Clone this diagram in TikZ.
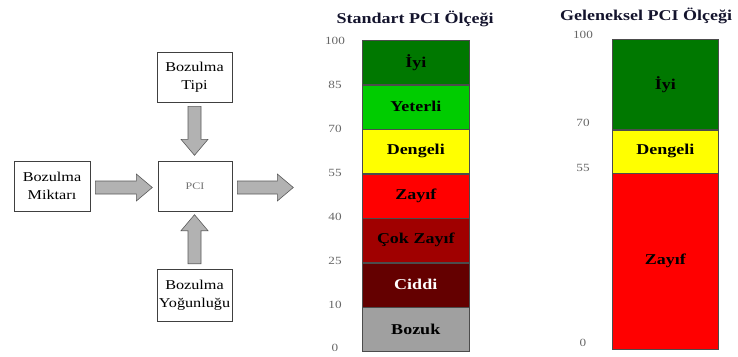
\documentclass[tikz,border=0pt]{standalone}
\usepackage{fontspec}
\setmainfont{Liberation Serif}[FakeStretch=1.2]
\usetikzlibrary{calc}
\definecolor{iyi}{RGB}{0,120,0}
\definecolor{yeterli}{RGB}{0,204,0}
\definecolor{dengeli}{RGB}{255,255,0}
\definecolor{zayif}{RGB}{255,0,0}
\definecolor{cokzayif}{RGB}{160,0,0}
\definecolor{ciddi}{RGB}{100,0,0}
\definecolor{bozuk}{RGB}{160,160,160}
\definecolor{arrfill}{RGB}{178,178,178}
\definecolor{titlecol}{RGB}{20,20,45}
\begin{document}
\begin{tikzpicture}[x=1pt,y=-1pt,
  box/.style={draw=black!75, line width=0.6pt, fill=white, minimum width=75pt, minimum height=50pt, inner sep=0pt, align=center, font=\fontsize{13.5}{18}\selectfont},
  seg/.style={draw=black!70, line width=0.5pt, anchor=north west, inner sep=0pt, font=\fontsize{15}{16}\selectfont\bfseries},
  stdseg/.style={seg, minimum width=107pt, minimum height=44pt},
  num/.style={text=black!60, font=\fontsize{11}{12}\selectfont, inner sep=0pt},
  ttl/.style={font=\fontsize{15}{16}\selectfont\bfseries, text=titlecol, inner sep=0pt},
  pics/barrow/.style={code={\draw[fill=arrfill, draw=black!65, line width=0.6pt] (0,-6.5) -- (#1-16,-6.5) -- (#1-16,-13.5) -- (#1,0) -- (#1-16,13.5) -- (#1-16,6.5) -- (0,6.5) -- cycle;}}
]
\useasboundingbox (0,0) rectangle (738,356);
% left diagram
\node[box] (tipi) at (194.5,77) {Bozulma\\Tipi};
\node[box, minimum width=76pt] (mik) at (52,186) {Bozulma\\Miktarı};
\node[box, minimum width=74pt, font=\fontsize{10}{11}\selectfont, text=black!55] (pci) at (195,186) {PCI};
\node[box, minimum height=52pt] (yog) at (194.5,295) {Bozulma\\Yoğunluğu};
\pic[rotate=-90] at ($(tipi.south)+(0,4)$) {barrow=49};
\pic[rotate=90] at ($(yog.north)+(0,-5)$) {barrow=49};
\pic at ($(mik.east)+(5,1.5)$) {barrow=57};
\pic at ($(pci.east)+(5,1.5)$) {barrow=56};
% standard scale
\node[ttl] (t1) at (415,19) {Standart PCI Ölçeği};
\node[stdseg, fill=iyi] (s1) at (362,40) {İyi};
\node[stdseg, fill=yeterli] (s2) at (s1.south west) {Yeterli};
\node[stdseg, fill=dengeli] (s3) at (s2.south west) {Dengeli};
\node[stdseg, fill=zayif] (s4) at (s3.south west) {Zayıf};
\node[stdseg, fill=cokzayif] (s5) at (s4.south west) {Çok Zayıf};
\node[stdseg, fill=ciddi, text=white] (s6) at (s5.south west) {Ciddi};
\node[stdseg, fill=bozuk] (s7) at (s6.south west) {Bozuk};
\foreach \v/\y in {100/41,85/85,70/129,55/173,40/217,25/261,10/305,0/348}
  \node[num] (sn\v) at (335,\y) {\v};
% traditional scale
\node[ttl] (t2) at (646,16) {Geleneksel PCI Ölçeği};
\node[seg, fill=iyi, minimum width=106pt, minimum height=90pt] (g1) at (612,39) {İyi};
\node[seg, fill=dengeli, minimum width=106pt, minimum height=43pt] (g2) at (g1.south west) {Dengeli};
\node[seg, fill=zayif, minimum width=106pt, minimum height=176pt] (g3) at (g2.south west) {Zayıf};
\foreach \v/\y in {100/35,70/123,55/168,0/343}
  \node[num] (gn\v) at (583,\y) {\v};
\end{tikzpicture}
\end{document}
